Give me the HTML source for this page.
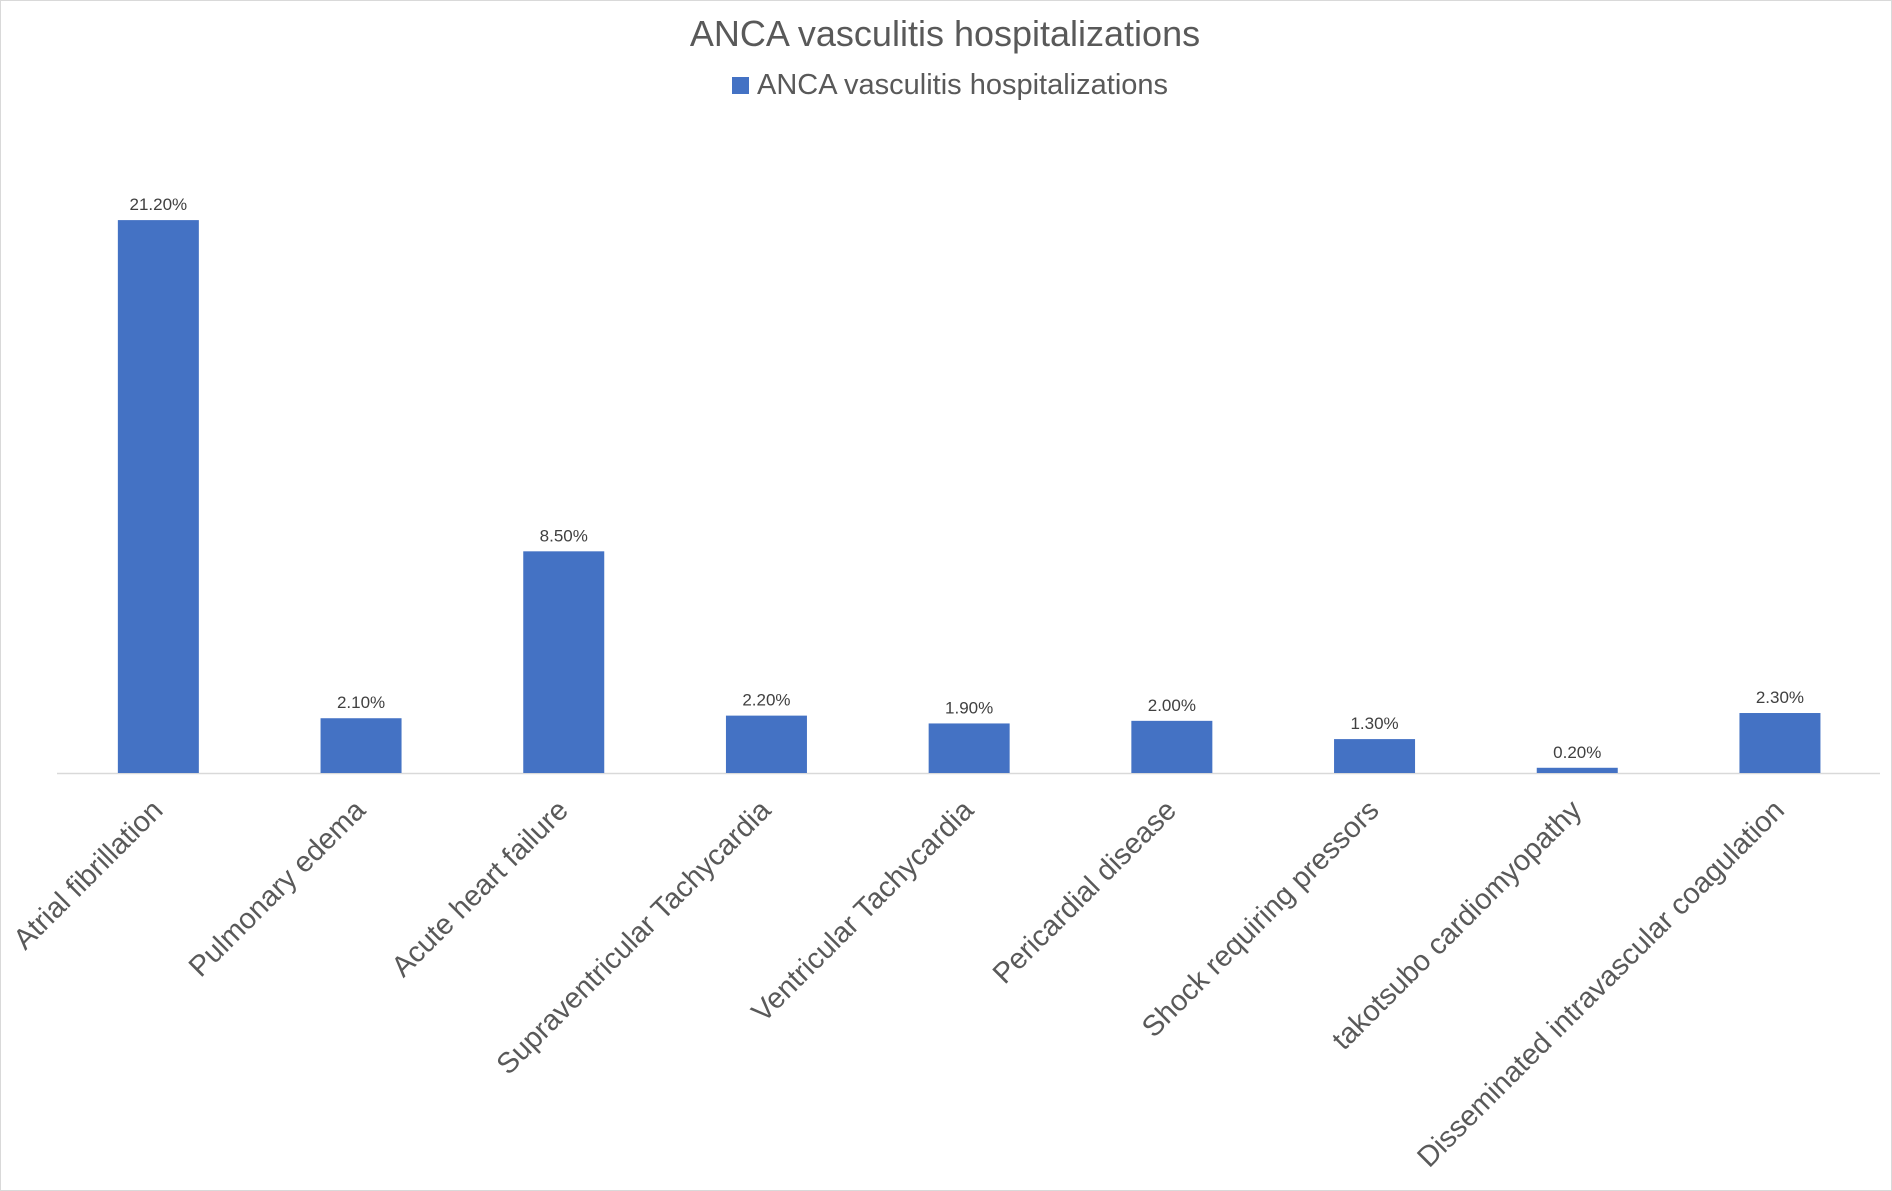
<!DOCTYPE html>
<html><head><meta charset="utf-8"><style>
html,body{margin:0;padding:0;background:#fff;}
svg{display:block;font-family:"Liberation Sans",sans-serif;}
</style></head><body>
<svg id="chart" width="1892" height="1191" viewBox="0 0 1892 1191">
<rect x="0.5" y="0.5" width="1891" height="1190" fill="#fff" stroke="#d9d9d9"/>
<text x="945" y="46" text-anchor="middle" font-size="36" fill="#595959">ANCA vasculitis hospitalizations</text>
<g>
<rect x="732" y="77" width="17" height="17" fill="#4472c4"/>
<text x="757" y="94" font-size="29" fill="#595959">ANCA vasculitis hospitalizations</text>
</g>
<line x1="57" y1="773.5" x2="1880" y2="773.5" stroke="#d9d9d9" stroke-width="1.5"/>
<g id="bars"></g>
</svg>
<script>
const categories = ["Atrial fibrillation","Pulmonary edema","Acute heart failure","Supraventricular Tachycardia","Ventricular Tachycardia","Pericardial disease","Shock requiring pressors","takotsubo cardiomyopathy","Disseminated intravascular coagulation"];
const values = [21.2,2.1,8.5,2.2,1.9,2.0,1.3,0.2,2.3];
const valueLabels = ["21.20%","2.10%","8.50%","2.20%","1.90%","2.00%","1.30%","0.20%","2.30%"];
const yMax = 25;

const baseY = 773, plotH = 652, x0 = 57, band = 202.7, barW = 81;
const yScale = v => baseY - v / yMax * plotH;
const xCenter = i => x0 + band * (i + 0.5);
const ns = "http://www.w3.org/2000/svg";
const g = document.getElementById("bars");
categories.forEach((c, i) => {
  const cx = xCenter(i), y = yScale(values[i]);
  const r = document.createElementNS(ns, "rect");
  
  
  r.setAttribute("x", cx - barW / 2); r.setAttribute("y", y);
  r.setAttribute("width", barW); r.setAttribute("height", baseY - y);
  r.setAttribute("fill", "#4472c4");
  g.appendChild(r);
  const t = document.createElementNS(ns, "text");
  
  
  t.setAttribute("x", cx); t.setAttribute("y", y - 10);
  t.setAttribute("text-anchor", "middle"); t.setAttribute("font-size", "17");
  t.setAttribute("fill", "#404040");
  t.textContent = valueLabels[i];
  g.appendChild(t);
  const l = document.createElementNS(ns, "text");
  
  
  const lx = cx + 6, ly = 812;
  l.setAttribute("x", lx); l.setAttribute("y", ly);
  l.setAttribute("text-anchor", "end"); l.setAttribute("font-size", "29");
  l.setAttribute("fill", "#595959");
  l.setAttribute("transform", `rotate(-45 ${lx} ${ly})`);
  l.textContent = c;
  g.appendChild(l);
});
</script>
</body></html>
